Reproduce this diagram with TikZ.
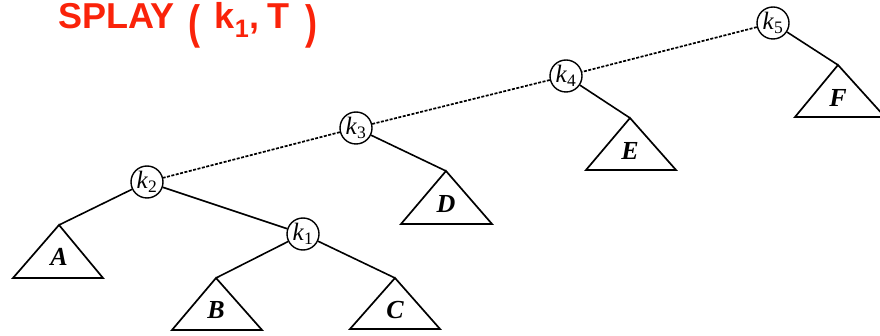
\documentclass[tikz,border=0pt]{standalone}
\usepackage{amsmath,amssymb}
\usepackage{graphicx}
\usepackage{fontspec}
\newfontfamily\handfont{Liberation Sans}
\newfontfamily\treefont{Liberation Serif}
\usepackage{xcolor}
\usepackage{tikz}
\usetikzlibrary{arrows.meta, positioning}

\definecolor{penred}{RGB}{250,35,10}

\begin{document}
\begin{tikzpicture}[
  x=1pt, y=-1pt,
  key/.style={circle, draw, line width=1.4pt, minimum size=32pt, inner sep=0pt,
              font=\treefont\fontsize{25}{25}\selectfont},
  edge/.style={line width=1.6pt},
  splay/.style={line width=1.7pt, dash pattern=on 3pt off 1.5pt},
  subtree/.style={line width=1.7pt, line join=miter},
  tlabel/.style={font=\treefont\fontsize{26}{26}\selectfont\bfseries\itshape}
]
\useasboundingbox (0,0) rectangle (880,336);

% title
\node[anchor=base west, text=penred, inner sep=0pt] (title) at (58,29)
  {\handfont\bfseries\fontsize{36}{36}\selectfont SPLAY\hspace{14pt}%
   \raisebox{-10pt}{\scalebox{1}[1.3]{(}}\hspace{14pt}%
   k\textsubscript{1},\hspace{8pt}T\hspace{16pt}%
   \raisebox{-10pt}{\scalebox{1}[1.3]{)}}};

% keys
\node[key] (k5) at (773,23)  {\textit{k}\textsubscript{5}};
\node[key] (k4) at (566,76)  {\textit{k}\textsubscript{4}};
\node[key] (k3) at (356,128) {\textit{k}\textsubscript{3}};
\node[key] (k2) at (147,182) {\textit{k}\textsubscript{2}};
\node[key] (k1) at (303,234) {\textit{k}\textsubscript{1}};

% subtrees
\coordinate (tF) at (838,65);
\coordinate (tE) at (630,118);
\coordinate (tD) at (446,171);
\coordinate (tA) at (59,225);
\coordinate (tB) at (216,278);
\coordinate (tC) at (395,278);
\draw[subtree] (tF) -- ++(-43,52) -- ++(90,0) -- cycle;
\draw[subtree] (tE) -- ++(-44,52) -- ++(90,0) -- cycle;
\draw[subtree] (tD) -- ++(-45,53) -- ++(91,0) -- cycle;
\draw[subtree] (tA) -- ++(-46,53) -- ++(90,0) -- cycle;
\draw[subtree] (tB) -- ++(-44,52) -- ++(90,0) -- cycle;
\draw[subtree] (tC) -- ++(-45,51) -- ++(90,0) -- cycle;
\node[tlabel] (lF) at (838,98)  {F};
\node[tlabel] (lE) at (630,151) {E};
\node[tlabel] (lD) at (446,204) {D};
\node[tlabel] (lA) at (59,257)  {A};
\node[tlabel] (lB) at (216,310) {B};
\node[tlabel] (lC) at (395,310) {C};

% splay path
\draw[splay] (k5) -- (k4);
\draw[splay] (k4) -- (k3);
\draw[splay] (k3) -- (k2);

% other edges
\draw[edge] (k2) -- (k1);
\draw[edge] (k5) -- (tF);
\draw[edge] (k4) -- (tE);
\draw[edge] (k3) -- (tD);
\draw[edge] (k2) -- (tA);
\draw[edge] (k1) -- (tB);
\draw[edge] (k1) -- (tC);
\end{tikzpicture}
\end{document}
